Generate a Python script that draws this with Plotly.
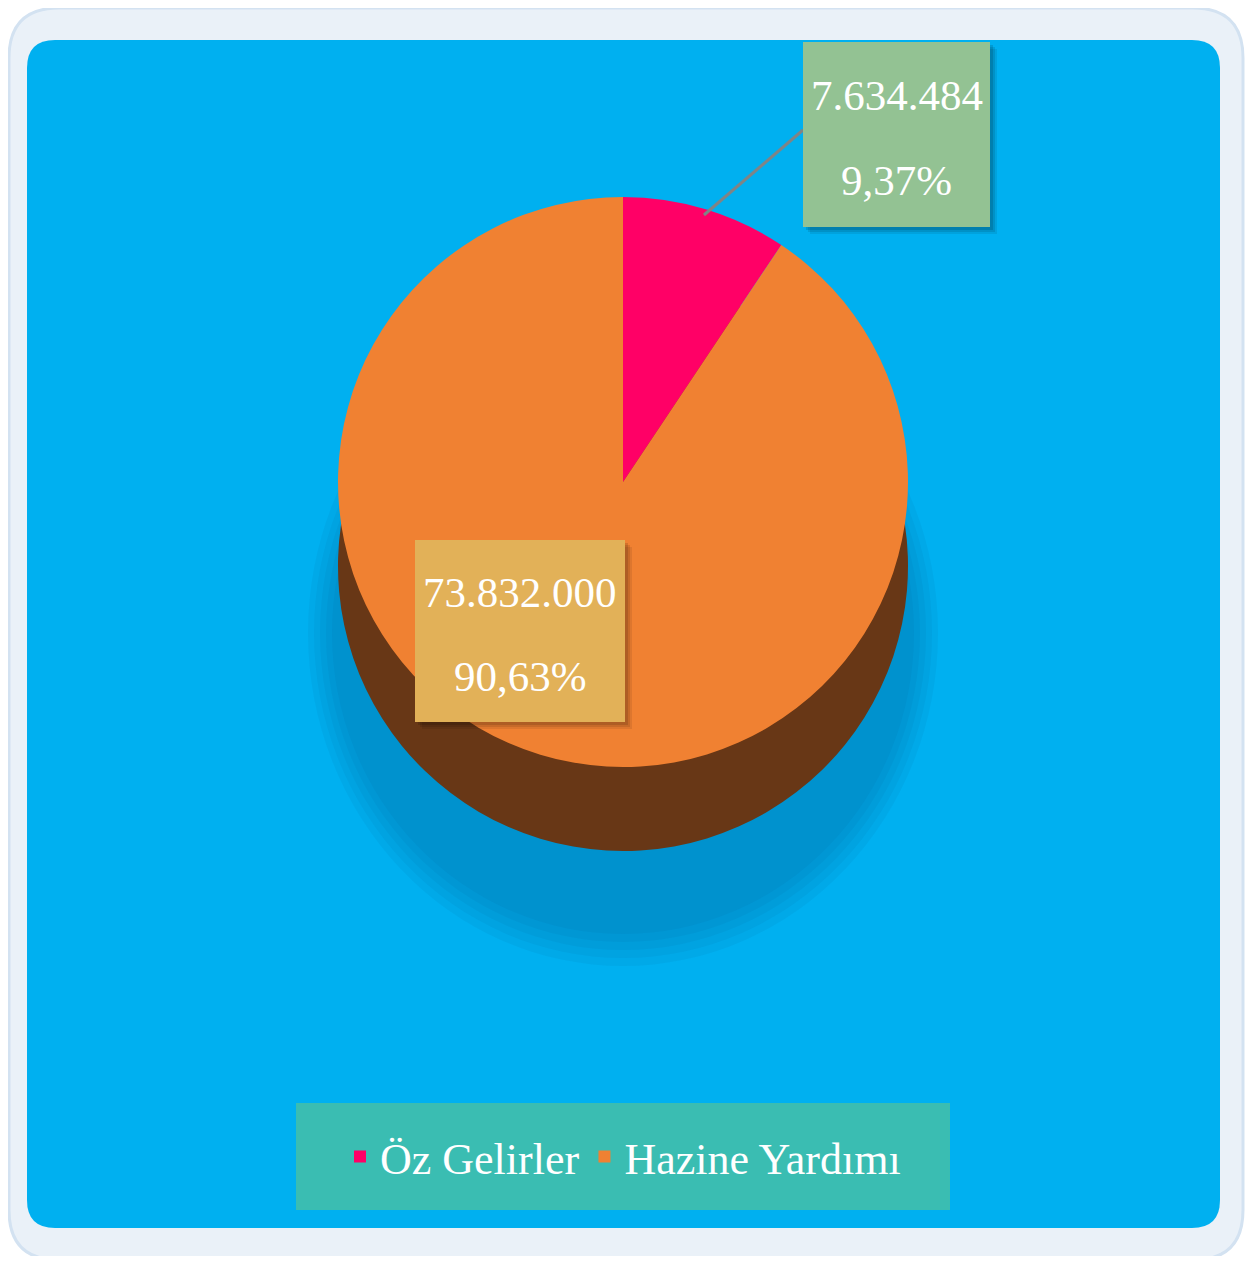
import plotly.graph_objects as go
import math

# ---- data ----
labels = ["Öz Gelirler", "Hazine Yardımı"]
values = [7634484, 73832000]
value_text = ["7.634.484", "73.832.000"]
percent_text = ["9,37%", "90,63%"]
colors = ["#FF0066", "#F08132"]
side_colors = ["#9E0040", "#683716"]

OFF = 8  # default body margin of the html page
W, H = 1253 - 2 * OFF, 1264 - 2 * OFF
def X(px): return (px - OFF) / W
def Y(py): return 1 - (py - OFF) / H

def rrect(x0, y0, x1, y1, r):
    pts = [
        ("M", [(x0 + r, y0)]), ("L", [(x1 - r, y0)]), ("Q", [(x1, y0), (x1, y0 + r)]),
        ("L", [(x1, y1 - r)]), ("Q", [(x1, y1), (x1 - r, y1)]),
        ("L", [(x0 + r, y1)]), ("Q", [(x0, y1), (x0, y1 - r)]),
        ("L", [(x0, y0 + r)]), ("Q", [(x0, y0), (x0 + r, y0)]),
    ]
    s = ""
    for cmd, ps in pts:
        s += cmd + " " + " ".join(f"{X(a):.5f},{Y(b):.5f}" for a, b in ps) + " "
    return s + "Z"

# pie geometry (pixels)
cx, cy, R = 623, 482, 285
depth = 84

fig = go.Figure()
fig.add_trace(go.Pie(
    labels=["side " + l for l in labels], values=values, sort=False,
    direction="clockwise", rotation=0, textinfo="none", hoverinfo="skip",
    marker=dict(colors=side_colors, line=dict(width=0)), showlegend=False,
    domain=dict(x=[X(cx - R), X(cx + R)], y=[Y(cy + R + depth), Y(cy - R + depth)]),
))
fig.add_trace(go.Pie(
    labels=labels, values=values, sort=False, direction="clockwise", rotation=0,
    textinfo="none", hoverinfo="label+value+percent",
    marker=dict(colors=colors, line=dict(width=0)),
    domain=dict(x=[X(cx - R), X(cx + R)], y=[Y(cy + R), Y(cy - R)]),
))

shapes = [
    dict(type="path", path=rrect(9, 8, 1243, 1260, 50), fillcolor="#EAF1F8",
         line=dict(color="#D3E2F1", width=3), layer="below", xref="paper", yref="paper"),
    dict(type="path", path=rrect(27, 40, 1220, 1228, 28), fillcolor="#00B0F0",
         line=dict(width=0), layer="below", xref="paper", yref="paper"),
]
# soft shadow under the pie
for ex, ey0, ey1 in [(30, 300, 966), (24, 308, 958), (18, 316, 950), (12, 324, 942), (6, 332, 934)]:
    shapes.append(dict(type="circle", xref="paper", yref="paper",
                       x0=X(cx - R - ex), x1=X(cx + R + ex), y0=Y(ey1), y1=Y(ey0),
                       fillcolor="rgba(0,60,120,0.06)", line=dict(width=0), layer="below"))

# legend box
shapes.append(dict(type="rect", xref="paper", yref="paper", x0=X(296), x1=X(950), y0=Y(1210), y1=Y(1103),
                   fillcolor="#3ABDB2", line=dict(width=0), layer="below"))

# leader line from slice mid-angle on the pie edge to the label box
f_mid = values[0] / sum(values) / 2
ang = 2 * math.pi * f_mid
sx, sy = cx + (R - 6) * math.sin(ang), cy - (R - 6) * math.cos(ang)
shapes.append(dict(type="line", xref="paper", yref="paper", x0=X(sx), y0=Y(sy), x1=X(803), y1=Y(130),
                   line=dict(color="#7F8486", width=3), layer="above"))

boxes = [
    (803, 42, 990, 227, "#93C293"),
    (415, 540, 625, 722, "#E2B158"),
]
for (x0, y0, x1, y1, c) in boxes:
    for k, a in [(7, 0.08), (5, 0.1), (3, 0.12)]:
        shapes.append(dict(type="rect", xref="paper", yref="paper", x0=X(x0 + k), x1=X(x1 + k),
                           y0=Y(y1 + k), y1=Y(y0 + k), fillcolor=f"rgba(0,0,0,{a})",
                           line=dict(width=0), layer="above"))
    shapes.append(dict(type="rect", xref="paper", yref="paper", x0=X(x0), x1=X(x1),
                       y0=Y(y1), y1=Y(y0), fillcolor=c, line=dict(width=0), layer="above"))

annotations = []
for (x0, y0, x1, y1, c), v, p in zip(boxes, value_text, percent_text):
    xc = X((x0 + x1) / 2)
    h = y1 - y0
    annotations.append(dict(
        x=xc, y=Y(y0 + h * 0.29), xref="paper", yref="paper", text=v, showarrow=False,
        xanchor="center", yanchor="middle",
        font=dict(family="Liberation Serif", size=43, color="white"),
    ))
    annotations.append(dict(
        x=xc, y=Y(y0 + h * 0.75), xref="paper", yref="paper", text=p, showarrow=False,
        xanchor="center", yanchor="middle",
        font=dict(family="Liberation Serif", size=43, color="white"),
    ))

fig.update_layout(
    width=W, height=H, margin=dict(l=0, r=0, t=0, b=0),
    paper_bgcolor="white", plot_bgcolor="white",
    shapes=shapes, annotations=annotations,
    showlegend=True,
    legend=dict(orientation="h", x=X(623), y=Y(1157), xanchor="center", yanchor="middle",
                bgcolor="rgba(0,0,0,0)", font=dict(family="Liberation Serif", size=44, color="white"),
                itemsizing="constant"),
)

fig.write_html("out.html")
